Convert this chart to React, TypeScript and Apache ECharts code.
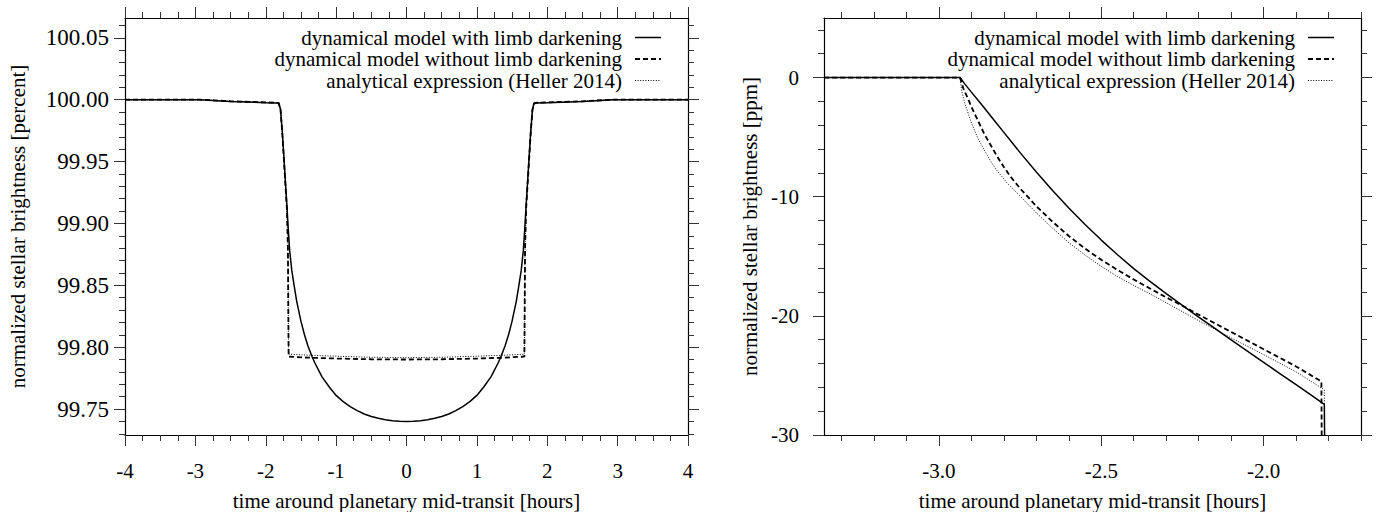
import React, { useEffect, useRef } from "react";
import * as echarts from "echarts";

const FONT = "Liberation Serif, Times New Roman, serif";

const SERIES_NAMES = [
  "dynamical model with limb darkening",
  "dynamical model without limb darkening",
  "analytical expression (Heller 2014)",
];

const X_TITLE = "time around planetary mid-transit [hours]";
const Y_TITLE_LEFT = "normalized stellar brightness [percent]";
const Y_TITLE_RIGHT = "normalized stellar brightness [ppm]";

// ---------- left panel: full transit, brightness in percent ----------
const leftWithLD: [number, number][] = [
  [-4.0, 100.0], [-3.5, 100.0], [-2.935, 100.0], [-2.5, 99.9986], [-2.0, 99.9976],
  [-1.813, 99.9973], [-1.79, 99.992], [-1.765, 99.974], [-1.735, 99.947], [-1.7, 99.915],
  [-1.68, 99.895], [-1.66, 99.878], [-1.63, 99.862], [-1.6, 99.851], [-1.56, 99.837],
  [-1.5, 99.821], [-1.45, 99.81], [-1.4, 99.801], [-1.34, 99.792], [-1.3, 99.787],
  [-1.2, 99.776], [-1.1, 99.768], [-1.0, 99.761], [-0.9, 99.756], [-0.8, 99.752],
  [-0.7, 99.7487], [-0.6, 99.746], [-0.5, 99.744], [-0.4, 99.7425], [-0.3, 99.7414],
  [-0.2, 99.7406], [-0.1, 99.7401], [0.0, 99.74], [0.1, 99.7401], [0.2, 99.7406],
  [0.3, 99.7414], [0.4, 99.7425], [0.5, 99.744], [0.6, 99.746], [0.7, 99.7487],
  [0.8, 99.752], [0.9, 99.756], [1.0, 99.761], [1.1, 99.768], [1.2, 99.776],
  [1.3, 99.787], [1.34, 99.792], [1.4, 99.801], [1.45, 99.81], [1.5, 99.821],
  [1.56, 99.837], [1.6, 99.851], [1.63, 99.862], [1.66, 99.878], [1.68, 99.895],
  [1.7, 99.915], [1.735, 99.947], [1.765, 99.974], [1.79, 99.992], [1.813, 99.9973],
  [2.0, 99.9976], [2.5, 99.9986], [2.935, 100.0], [3.5, 100.0], [4.0, 100.0],
];

const leftNoLD: [number, number][] = [
  [-4.0, 100.0], [-3.5, 100.0], [-2.935, 100.0], [-2.5, 99.9987], [-2.0, 99.9978],
  [-1.822, 99.99745], [-1.79, 99.992], [-1.765, 99.973], [-1.735, 99.945], [-1.7, 99.912],
  [-1.685, 99.88], [-1.68, 99.835], [-1.675, 99.7924], [-1.4, 99.7915], [-1.0, 99.7908],
  [-0.5, 99.7902], [0.0, 99.79], [0.5, 99.7902], [1.0, 99.7908], [1.4, 99.7915],
  [1.675, 99.7924], [1.68, 99.835], [1.685, 99.88], [1.7, 99.912], [1.735, 99.945],
  [1.765, 99.973], [1.79, 99.992], [1.822, 99.99745], [2.0, 99.9978], [2.5, 99.9987],
  [2.935, 100.0], [3.5, 100.0], [4.0, 100.0],
];

const leftAnalytic: [number, number][] = [
  [-4.0, 100.0], [-3.5, 100.0], [-2.935, 100.0], [-2.5, 99.9987], [-2.0, 99.9977],
  [-1.813, 99.9974], [-1.79, 99.992], [-1.765, 99.973], [-1.735, 99.945], [-1.7, 99.912],
  [-1.685, 99.88], [-1.68, 99.836], [-1.675, 99.7943], [-1.4, 99.7935], [-1.0, 99.7927],
  [-0.5, 99.7918], [0.0, 99.7915], [0.5, 99.7918], [1.0, 99.7927], [1.4, 99.7935],
  [1.675, 99.7943], [1.68, 99.836], [1.685, 99.88], [1.7, 99.912], [1.735, 99.945],
  [1.765, 99.973], [1.79, 99.992], [1.813, 99.9974], [2.0, 99.9977], [2.5, 99.9987],
  [2.935, 100.0], [3.5, 100.0], [4.0, 100.0],
];

// ---------- right panel: moon ingress, brightness in ppm ----------
const rightWithLD: [number, number][] = [
  [-3.354, 0], [-3.0, 0], [-2.935, 0], [-2.92, -0.55], [-2.9, -1.22], [-2.87, -2.22],
  [-2.83, -3.58], [-2.8, -4.6], [-2.75, -6.3], [-2.7, -7.92], [-2.65, -9.47], [-2.6, -10.94],
  [-2.55, -12.33], [-2.5, -13.64], [-2.45, -14.87], [-2.4, -16.03], [-2.35, -17.11],
  [-2.3, -18.13], [-2.25, -19.12], [-2.2, -20.1], [-2.15, -21.06], [-2.1, -22.01],
  [-2.05, -22.96], [-2.0, -23.9], [-1.95, -24.84], [-1.9, -25.78], [-1.85, -26.72],
  [-1.813, -27.42], [-1.812, -30.5],
];

const rightNoLD: [number, number][] = [
  [-3.354, 0], [-3.0, 0], [-2.935, 0], [-2.925, -0.9], [-2.91, -1.8], [-2.9, -2.45],
  [-2.88, -3.6], [-2.86, -4.75], [-2.84, -5.7], [-2.82, -6.65], [-2.8, -7.5], [-2.78, -8.3],
  [-2.75, -9.3], [-2.7, -10.8], [-2.65, -12.1], [-2.6, -13.3], [-2.55, -14.35],
  [-2.5, -15.3], [-2.45, -16.15], [-2.4, -16.95], [-2.35, -17.7], [-2.3, -18.45],
  [-2.25, -19.15], [-2.2, -19.9], [-2.1, -21.35], [-2.0, -22.8], [-1.9, -24.25],
  [-1.822, -25.5], [-1.821, -30.5],
];

const rightAnalytic: [number, number][] = [
  [-3.354, 0], [-3.0, 0], [-2.935, 0], [-2.93, -1.1], [-2.92, -2.2], [-2.9, -3.8],
  [-2.88, -5.1], [-2.86, -6.1], [-2.84, -7.05], [-2.82, -7.85], [-2.79, -8.85], [-2.75, -9.95],
  [-2.7, -11.35], [-2.65, -12.65], [-2.6, -13.85], [-2.55, -14.9], [-2.5, -15.85],
  [-2.45, -16.7], [-2.4, -17.45], [-2.35, -18.15], [-2.3, -18.9], [-2.25, -19.65],
  [-2.2, -20.4], [-2.1, -21.85], [-2.0, -23.25], [-1.9, -24.7], [-1.813, -26.2],
  [-1.812, -30.5],
];

// ---------- ticks ----------
const leftXMajor = [-4, -3, -2, -1, 0, 1, 2, 3, 4];
const leftXMinor = [
  -3.75, -3.5, -3.25, -2.75, -2.5, -2.25, -1.75, -1.5, -1.25, -0.75, -0.5, -0.25,
  0.25, 0.5, 0.75, 1.25, 1.5, 1.75, 2.25, 2.5, 2.75, 3.25, 3.5, 3.75,
];
const leftYMajor = [99.75, 99.8, 99.85, 99.9, 99.95, 100.0, 100.05];
const leftYMinor = [
  99.73, 99.74, 99.76, 99.77, 99.78, 99.79, 99.81, 99.82, 99.83, 99.84, 99.86, 99.87,
  99.88, 99.89, 99.91, 99.92, 99.93, 99.94, 99.96, 99.97, 99.98, 99.99, 100.01, 100.02,
  100.03, 100.04, 100.06,
];
const rightXMajor = [-3.0, -2.5, -2.0];
const rightXMinor = [
  -3.3, -3.2, -3.1, -2.9, -2.8, -2.7, -2.6, -2.4, -2.3, -2.2, -2.1, -1.9, -1.8, -1.7,
];
const rightYMajor = [-30, -20, -10, 0];
const rightYMinor = [-28, -26, -24, -22, -18, -16, -14, -12, -8, -6, -4, -2, 2, 4];

const LEFT_RANGE = { xMin: -4, xMax: 4, yMin: 99.729, yMax: 100.066 };
const RIGHT_RANGE = { xMin: -3.354, xMax: -1.7, yMin: -30, yMax: 5 };

const GRID_LEFT = { left: 125, right: 691, top: 18, bottom: 77 };
const GRID_RIGHT = { left: 824, right: 18, top: 18, bottom: 77 };

const LINE_STYLES = [
  { type: "solid", width: 1.5, dash: [] as number[] },
  { type: [5, 3], width: 1.8, dash: [5, 3] },
  { type: [1, 1.6], width: 1, dash: [1, 1.6] },
];

function makeAxes(
  dim: "x" | "y",
  gridIndex: number,
  min: number,
  max: number,
  majors: number[],
  minors: number[],
  fmt: (v: number) => string,
  margin: number,
  fontSize: number
) {
  const positions = dim === "x" ? ["bottom", "top"] : ["left", "right"];
  const axes: any[] = [];
  positions.forEach((pos, pi) => {
    axes.push({
      type: "value",
      gridIndex,
      position: pos,
      min,
      max,
      axisLine: { show: true, onZero: false, lineStyle: { color: "#000", width: 1.2 } },
      axisTick: {
        show: true,
        inside: false,
        length: 11,
        customValues: majors,
        lineStyle: { color: "#333", width: 1 },
      },
      axisLabel: {
        show: pi === 0,
        customValues: majors,
        formatter: (v: number) => fmt(v),
        margin,
        fontFamily: FONT,
        fontSize,
        color: "#000",
      },
      splitLine: { show: false },
    });
    axes.push({
      type: "value",
      gridIndex,
      position: pos,
      min,
      max,
      axisLine: { show: false, onZero: false },
      axisTick: {
        show: true,
        inside: false,
        length: 6,
        customValues: minors,
        lineStyle: { color: "#333", width: 1 },
      },
      axisLabel: { show: false },
      splitLine: { show: false },
    });
  });
  return axes;
}

export default function App() {
  const ref = useRef<HTMLDivElement>(null);

  useEffect(() => {
    document.body.style.margin = "0";
    if (!ref.current) return;
    const chart = echarts.init(ref.current, undefined, { renderer: "svg" });

    const xAxes = [
      ...makeAxes("x", 0, LEFT_RANGE.xMin, LEFT_RANGE.xMax, leftXMajor, leftXMinor, (v) => String(Math.round(v)), 25, 21),
      ...makeAxes("x", 1, RIGHT_RANGE.xMin, RIGHT_RANGE.xMax, rightXMajor, rightXMinor, (v) => v.toFixed(1), 25, 21),
    ];
    const yAxes = [
      ...makeAxes("y", 0, LEFT_RANGE.yMin, LEFT_RANGE.yMax, leftYMajor, leftYMinor, (v) => v.toFixed(2), 16, 23),
      ...makeAxes("y", 1, RIGHT_RANGE.yMin, RIGHT_RANGE.yMax, rightYMajor, rightYMinor, (v) => String(Math.round(v)), 25, 21),
    ];

    const leftData = [leftWithLD, leftNoLD, leftAnalytic];
    const rightData = [rightWithLD, rightNoLD, rightAnalytic];

    const series: any[] = [];
    leftData.forEach((d, i) => {
      series.push({
        name: SERIES_NAMES[i],
        type: "line",
        xAxisIndex: 0,
        yAxisIndex: 0,
        data: d,
        symbol: "none",
        clip: true,
        lineStyle: { color: "#000", width: LINE_STYLES[i].width, type: LINE_STYLES[i].type as any },
      });
    });
    rightData.forEach((d, i) => {
      series.push({
        name: SERIES_NAMES[i],
        type: "line",
        xAxisIndex: 4,
        yAxisIndex: 4,
        data: d,
        symbol: "none",
        clip: true,
        lineStyle: { color: "#000", width: LINE_STYLES[i].width, type: LINE_STYLES[i].type as any },
      });
    });

    const legendRows = [37.5, 59, 80.5];
    const legendPanels = [
      { textRight: 622, lineX1: 635, lineX2: 661 },
      { textRight: 1295, lineX1: 1308, lineX2: 1334 },
    ];
    const graphics: any[] = [];
    legendPanels.forEach((p) => {
      SERIES_NAMES.forEach((name, i) => {
        graphics.push({
          type: "text",
          x: p.textRight,
          y: legendRows[i],
          style: {
            text: name,
            font: `21px ${FONT}`,
            lineHeight: 20,
            textAlign: "right",
            textVerticalAlign: "middle",
            fill: "#000",
          },
        });
        graphics.push({
          type: "line",
          shape: { x1: p.lineX1, y1: legendRows[i], x2: p.lineX2, y2: legendRows[i] },
          style: { stroke: "#000", lineWidth: LINE_STYLES[i].width, lineDash: LINE_STYLES[i].dash },
        });
      });
    });
    const titles = [
      { text: X_TITLE, x: 406.5, y: 501, rot: 0 },
      { text: X_TITLE, x: 1092.5, y: 501, rot: 0 },
      { text: Y_TITLE_LEFT, x: 18, y: 226.5, rot: Math.PI / 2 },
      { text: Y_TITLE_RIGHT, x: 750, y: 226.5, rot: Math.PI / 2 },
    ];
    titles.forEach((t) => {
      graphics.push({
        type: "text",
        x: t.x,
        y: t.y,
        rotation: t.rot,
        style: {
          text: t.text,
          font: `21px ${FONT}`,
          textAlign: "center",
          textVerticalAlign: "middle",
          fill: "#000",
        },
      });
    });

    chart.setOption({
      animation: false,
      backgroundColor: "#fff",
      grid: [
        { ...GRID_LEFT, containLabel: false },
        { ...GRID_RIGHT, containLabel: false },
      ],
      xAxis: xAxes,
      yAxis: yAxes,
      series,
      graphic: graphics,
    });

    return () => chart.dispose();
  }, []);

  return <div ref={ref} style={{ width: 1379, height: 512 }} />;
}
